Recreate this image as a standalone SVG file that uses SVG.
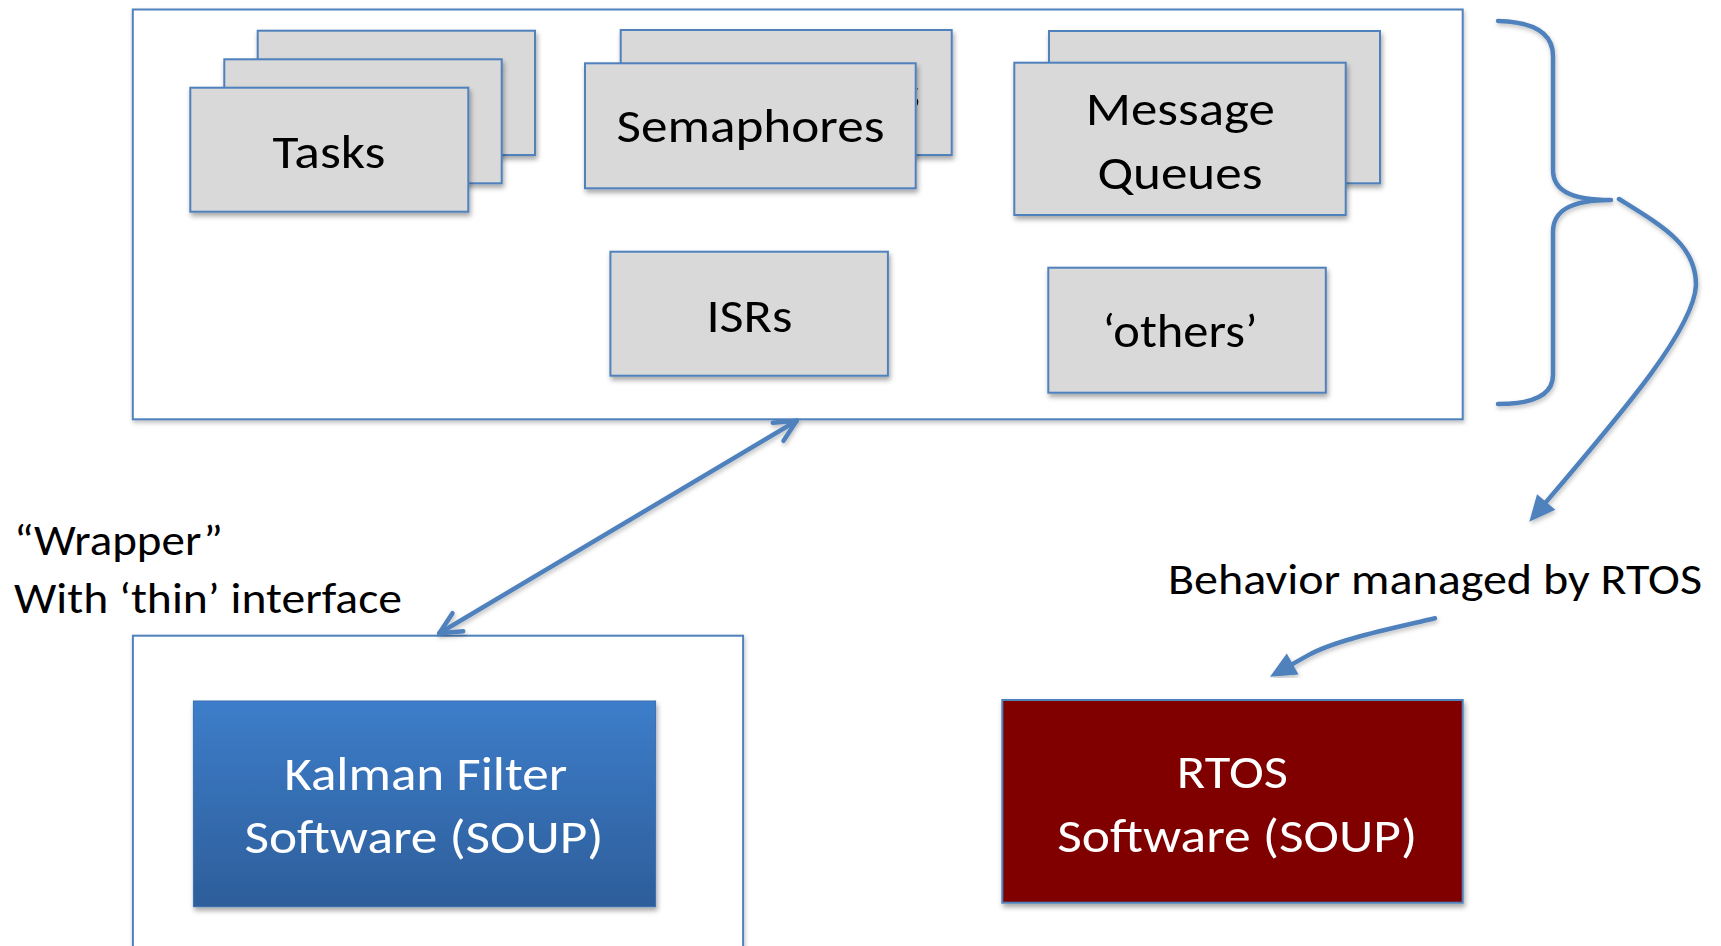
<svg xmlns="http://www.w3.org/2000/svg" width="1721" height="946" viewBox="0 0 1721 946">
  <style>
    .frame { fill: #ffffff; stroke: #4F81BD; stroke-width: 2; }
    .card { fill: #D9D9D9; stroke: #4F81BD; stroke-width: 2; filter: url(#shadow); }
    .label { font-family: Carlito, Lato, "Open Sans", sans-serif; font-size: 47px; fill: #000000; text-anchor: middle; }
    .label-light { fill: #ffffff; }
    .note { font-family: Carlito, Lato, "Open Sans", sans-serif; font-size: 42.5px; fill: #000000; }
    .wire { fill: none; stroke: #4F81BD; stroke-width: 4.5; stroke-linecap: round; stroke-linejoin: round; filter: url(#shadow-soft); }
  </style>
  <defs>
    <filter id="shadow" x="-10%" y="-10%" width="125%" height="130%">
      <feDropShadow dx="1.5" dy="3.5" stdDeviation="2.5" flood-color="#000000" flood-opacity="0.35"/>
    </filter>
    <filter id="shadow-soft" x="-10%" y="-10%" width="125%" height="130%">
      <feDropShadow dx="1" dy="2.5" stdDeviation="2" flood-color="#000000" flood-opacity="0.25"/>
    </filter>
    <linearGradient id="kalman-fill" x1="0" y1="0" x2="0" y2="1">
      <stop offset="0" stop-color="#3D7DCA"/>
      <stop offset="1" stop-color="#2D5E9A"/>
    </linearGradient>
    <!-- parts of the rear cards that stay visible beside the front cards -->
    <clipPath id="sem-rear-visible">
      <path d="M620,29 H953 V157 H917 V62 H620 Z"/>
    </clipPath>
    <clipPath id="mq-rear-visible">
      <path d="M1048,30 H1381 V185 H1347 V61.5 H1048 Z"/>
    </clipPath>
    <marker id="chevron" markerUnits="userSpaceOnUse" markerWidth="40" markerHeight="40" viewBox="-30 -20 40 40" refX="0" refY="0" orient="auto-start-reverse" overflow="visible">
      <path d="M-21.6,-10.5 L0,0 L-21.6,10.5" fill="none" stroke="#4F81BD" stroke-width="4.5" stroke-linecap="round" stroke-linejoin="round"/>
    </marker>
    <marker id="head" markerUnits="userSpaceOnUse" markerWidth="40" markerHeight="30" viewBox="-30 -15 40 30" refX="-18" refY="0" orient="auto" overflow="visible">
      <path d="M-26,-12 L0,0 L-26,12 Z" fill="#4F81BD"/>
    </marker>
  </defs>

  <rect width="1721" height="946" fill="#ffffff"/>

  <!-- RTOS objects container -->
  <g id="rtos-objects">
    <rect class="frame" x="132.8" y="9.5" width="1329.9" height="409.8" filter="url(#shadow-soft)"/>
  </g>

  <!-- Tasks (stack of three) -->
  <g id="node-tasks">
    <rect class="card" x="257.7" y="30.7" width="277.3" height="124.3"/>
    <rect class="card" x="224.3" y="59.3" width="277.4" height="124"/>
    <rect class="card" x="190.3" y="87.7" width="278" height="124"/>
    <text class="label" x="329" y="168" textLength="113" lengthAdjust="spacingAndGlyphs">Tasks</text>
  </g>

  <!-- Semaphores (stack of two) -->
  <g id="node-semaphores">
    <rect class="card" x="620.7" y="30" width="331" height="125"/>
    <text class="label" x="786.2" y="108.7" textLength="268" lengthAdjust="spacingAndGlyphs" clip-path="url(#sem-rear-visible)">Semaphores</text>
    <rect class="card" x="585" y="63.3" width="330.7" height="125"/>
    <text class="label" x="750.5" y="142" textLength="268" lengthAdjust="spacingAndGlyphs">Semaphores</text>
  </g>

  <!-- Message queues (stack of two) -->
  <g id="node-message-queues">
    <rect class="card" x="1049" y="31" width="331" height="152.3"/>
    <g clip-path="url(#mq-rear-visible)">
      <text class="label" x="1215" y="92.6" textLength="189" lengthAdjust="spacingAndGlyphs">Message</text>
      <text class="label" x="1214.6" y="157" textLength="165" lengthAdjust="spacingAndGlyphs">Queues</text>
    </g>
    <rect class="card" x="1014.3" y="62.7" width="331.4" height="152.3"/>
    <text class="label" x="1180.3" y="124.5" textLength="189" lengthAdjust="spacingAndGlyphs">Message</text>
    <text class="label" x="1179.9" y="188.8" textLength="165" lengthAdjust="spacingAndGlyphs">Queues</text>
  </g>

  <g id="node-isrs">
    <rect class="card" x="610.4" y="251.7" width="277.5" height="124"/>
    <text class="label" x="749.4" y="331.5" textLength="86" lengthAdjust="spacingAndGlyphs">ISRs</text>
  </g>

  <g id="node-others">
    <rect class="card" x="1048.3" y="267.7" width="277.5" height="125"/>
    <text class="label" x="1180" y="347" textLength="155" lengthAdjust="spacingAndGlyphs">‘others’</text>
  </g>

  <!-- Wrapper container around the filter -->
  <g id="wrapper">
    <rect class="frame" x="132.9" y="635.7" width="610.2" height="330" filter="url(#shadow-soft)"/>
    <text class="note" x="14" y="555" textLength="209" lengthAdjust="spacingAndGlyphs">“Wrapper”</text>
    <text class="note" x="14" y="612.5" textLength="388" lengthAdjust="spacingAndGlyphs">With ‘thin’ interface</text>
  </g>

  <g id="node-kalman">
    <rect x="193.4" y="701" width="462.2" height="205.7" fill="url(#kalman-fill)" stroke="#3A6FB0" stroke-width="1" filter="url(#shadow)"/>
    <text class="label label-light" x="425.7" y="790" textLength="283" lengthAdjust="spacingAndGlyphs">Kalman Filter</text>
    <text class="label label-light" x="423.9" y="853.3" textLength="359" lengthAdjust="spacingAndGlyphs">Software (SOUP)</text>
  </g>

  <g id="node-rtos">
    <rect x="1002.3" y="700" width="460.4" height="202.7" fill="#800000" stroke="#4F81BD" stroke-width="2" filter="url(#shadow)"/>
    <text class="label label-light" x="1232.3" y="788.3" textLength="111" lengthAdjust="spacingAndGlyphs">RTOS</text>
    <text class="label label-light" x="1237.2" y="851.7" textLength="360" lengthAdjust="spacingAndGlyphs">Software (SOUP)</text>
  </g>

  <g id="behavior-note">
    <text class="note" x="1168" y="594" textLength="534" lengthAdjust="spacingAndGlyphs">Behavior managed by RTOS</text>
  </g>

  <!-- Connectors -->
  <g id="connectors">
    <path id="brace" class="wire" d="M1498,21 C1536,22 1553,34 1553,56 L1553,170 C1553,190 1570,200 1611,200 C1570,200 1553,211 1553,232 L1553,375 C1553,394 1536,404 1498,404"/>
    <path id="brace-to-note" class="wire" d="M1619,199 C1664,227 1696,245 1696,285 C1694,330 1620,415 1541,508" marker-end="url(#head)"/>
    <path id="note-to-rtos" class="wire" d="M1435,618.3 C1390,629 1335,640 1307.5,655.6 L1285.7,667.9" marker-end="url(#head)"/>
    <line id="wrapper-link" class="wire" x1="439.3" y1="633.3" x2="796.7" y2="420.7" marker-start="url(#chevron)" marker-end="url(#chevron)"/>
  </g>
</svg>
